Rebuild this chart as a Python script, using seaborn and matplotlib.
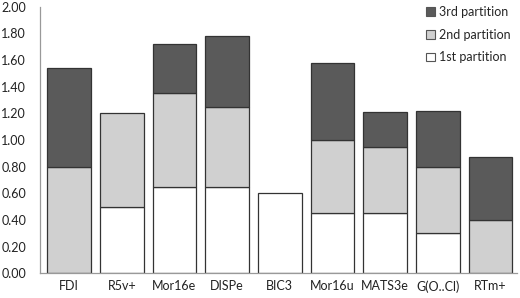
"""Stacked partition bars per descriptor."""

import matplotlib
matplotlib.use("Agg")
import matplotlib.pyplot as plt
import numpy as np
import pandas as pd
import seaborn as sns
from matplotlib.patches import Patch

DESCRIPTORS = ["FDI", "R5v+", "Mor16e", "DISPe", "BIC3", "Mor16u", "MATS3e", "G(O..Cl)", "RTm+"]
FIRST = [0.00, 0.50, 0.65, 0.65, 0.60, 0.45, 0.45, 0.30, 0.00]
SECOND = [0.80, 0.70, 0.70, 0.60, 0.00, 0.55, 0.50, 0.50, 0.40]
THIRD = [0.74, 0.00, 0.37, 0.53, 0.00, 0.58, 0.26, 0.42, 0.47]
YTICKS = [0.0, 0.2, 0.4, 0.6, 0.8, 1.0, 1.2, 1.4, 1.6, 1.8, 2.0]

COLORS = {"1st partition": "#ffffff", "2nd partition": "#d0d0d0", "3rd partition": "#5a5a5a"}

sns.set_style("white")
plt.rcParams["font.family"] = ["Lato", "DejaVu Sans"]

df = pd.DataFrame({"descriptor": DESCRIPTORS, "first": FIRST, "second": SECOND, "third": THIRD})

fig = plt.figure(figsize=(5.2, 2.98), dpi=100)
ax = fig.add_axes([0.077, 0.083, 0.917, 0.894])

bottom = np.zeros(len(df))
for col, name in [("first", "1st partition"), ("second", "2nd partition"), ("third", "3rd partition")]:
    sns.barplot(
        data=df, x="descriptor", y=col, order=DESCRIPTORS, color=COLORS[name],
        bottom=bottom, width=0.83, edgecolor="#333333", linewidth=0.9,
        saturation=1, ax=ax,
    )
    bottom = bottom + df[col].values

# hide zero-height bars outlines
for p in ax.patches:
    if p.get_height() == 0:
        p.set_visible(False)

ax.set_ylim(0, 2.0)
ax.set_xlim(-0.55, len(DESCRIPTORS) - 0.5)
ax.set_yticks(YTICKS)
ax.set_yticklabels([f"{v:.2f}" for v in YTICKS])
ax.set_xlabel("")
ax.set_ylabel("")
ax.set_xticks(np.arange(-0.5, len(DESCRIPTORS)), minor=True)
ax.tick_params(axis="x", which="major", length=0, pad=5, labelsize=9, colors="#222222")
ax.tick_params(axis="x", which="minor", direction="in", length=3, width=0.8, color="#999999")
ax.tick_params(axis="y", direction="in", length=3, width=0.8, color="#999999", labelsize=9,
               labelcolor="#222222", pad=10)

sns.despine(ax=ax)
for side in ("left", "bottom"):
    ax.spines[side].set_color("#999999")
    ax.spines[side].set_linewidth(0.9)

handles = [Patch(facecolor=COLORS[n], edgecolor="#555555", linewidth=0.8, label=n)
           for n in ["3rd partition", "2nd partition", "1st partition"]]
ax.legend(handles=handles, loc="upper right", bbox_to_anchor=(1.01, 1.045), frameon=False,
          fontsize=9, handlelength=0.7, handleheight=0.7, handletextpad=0.3, labelspacing=0.85)

fig.savefig("out.png", dpi=100)
